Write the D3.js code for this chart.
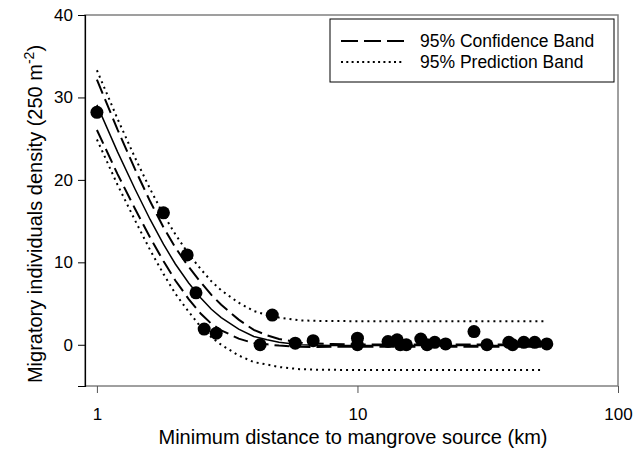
<!DOCTYPE html>
<html><head><meta charset="utf-8">
<script src="https://cdn.jsdelivr.net/npm/d3@7"></script>
<style>body{margin:0;background:#fff}svg{display:block;font-family:"Liberation Sans",Arial,sans-serif}</style>
</head><body><svg id="c" width="644" height="450"></svg>
<script>
// observed points
const distKm = [1.0,1.8,2.22,2.4,2.58,2.87,4.23,4.71,5.77,6.76,10.0,10.0,13.1,14.2,14.6,15.4,17.5,18.5,19.8,21.8,28.0,31.4,38.1,39.4,43.5,47.9,53.3];
const density = [28.2,16.0,10.9,6.3,1.9,1.4,0.0,3.6,0.2,0.5,0.8,0.0,0.4,0.6,0.0,0.0,0.7,0.0,0.3,0.1,1.6,0.0,0.3,0.0,0.3,0.3,0.1];
// fitted curve and bands
const curveX   = [1,1.2,1.4,1.6,1.8,2,2.25,2.5,2.75,3,3.5,4,4.5,5,6,7,8,10,13,17,22,30,40,52];
const fitY     = [29.1,23.4,18.9,15.2,12.2,9.8,7.5,5.7,4.3,3.3,1.9,1.0,0.6,0.3,0.0,-0.06,-0.08,-0.1,-0.1,-0.1,-0.1,-0.1,-0.1,-0.1];
const confUp   = [32.15,26.1,21.3,17.4,14.25,11.8,9.45,7.6,6.05,4.85,3.05,1.8,1.15,0.7,0.25,0.14,0.09,0.05,0.03,0.03,0.03,0.03,0.03,0.03];
const confLo   = [26.05,20.7,16.5,13.0,10.15,7.8,5.55,3.8,2.55,1.75,0.75,0.2,0.05,-0.1,-0.25,-0.26,-0.25,-0.25,-0.23,-0.23,-0.23,-0.23,-0.23,-0.23];
const predUp   = [33.3,27.4,22.7,18.9,15.8,13.4,11.0,9.2,7.7,6.6,5.1,4.1,3.6,3.3,2.96,2.9,2.88,2.86,2.86,2.86,2.86,2.86,2.86,2.86];
const predLo   = [24.9,19.4,15.1,11.5,8.6,6.2,4.0,2.2,0.9,0.0,-1.3,-2.1,-2.4,-2.7,-2.96,-3.02,-3.04,-3.06,-3.06,-3.06,-3.06,-3.06,-3.06,-3.06];
const xTicks = [1,10,100];
const yTicks = [0,10,20,30,40];
const legendLabels = ["95% Confidence Band","95% Prediction Band"];

const svg = d3.select("#c");
const L=85, R=618, T=15, B=386;
const x = d3.scaleLog().domain([0.9,100]).range([L,R]);
const y = d3.scaleLinear().domain([-5,40]).range([B,T]);

// frame (gray)
svg.append("rect").attr("x",L).attr("y",T).attr("width",R-L).attr("height",B-T)
  .attr("fill","none").attr("stroke","#808080").attr("stroke-width",1.5);

// y axis
const ya = svg.append("g").attr("transform",`translate(${L},0)`)
  .call(d3.axisLeft(y).tickValues(yTicks).tickSize(7).tickPadding(5).tickFormat(d3.format("d")));
ya.select(".domain").attr("stroke","#000").attr("stroke-width",1.2);
ya.selectAll(".tick line").attr("stroke","#000");
ya.selectAll("text").attr("font-size",17).attr("fill","#000").attr("font-family","Liberation Sans, Arial, sans-serif");

// x axis
const xa = svg.append("g").attr("transform",`translate(0,${B})`)
  .call(d3.axisBottom(x).tickValues(xTicks).tickSize(7).tickPadding(15).tickFormat(d3.format("d")));
xa.select(".domain").remove();
xa.selectAll(".tick line").attr("stroke","#555");
xa.selectAll("text").attr("font-size",17).attr("fill","#000").attr("font-family","Liberation Sans, Arial, sans-serif");

const mk = arr => d3.line().x((d,i)=>x(curveX[i])).y(d=>y(d))(arr);
const g = svg.append("g").attr("fill","none").attr("stroke","#000");
[predUp,predLo].forEach(a=>g.append("path").attr("d",mk(a)).attr("stroke-width",2).attr("stroke-dasharray","2,4"));
[confUp,confLo].forEach(a=>g.append("path").attr("d",mk(a)).attr("stroke-width",2).attr("stroke-dasharray","15,6"));
g.append("path").attr("d",mk(fitY)).attr("stroke-width",1.5);

svg.append("g").selectAll("circle").data(distKm).join("circle")
  .attr("cx",d=>x(d)).attr("cy",(d,i)=>y(density[i])).attr("r",6.5).attr("fill","#000");

// legend
const lg = svg.append("g");
lg.append("rect").attr("x",330).attr("y",19).attr("width",284).attr("height",63)
  .attr("fill","#fff").attr("stroke","#000").attr("stroke-width",1);
const dashes = ["17,6","2,3.3"];
legendLabels.forEach((t,i)=>{
  const yy = 41 + i*21;
  lg.append("line").attr("x1",341).attr("x2",404).attr("y1",yy).attr("y2",yy)
    .attr("stroke","#000").attr("stroke-width",2).attr("stroke-dasharray",dashes[i]);
  lg.append("text").attr("x",420).attr("y",yy+6).attr("font-size",17.5).text(t);
});

// titles
svg.append("text").attr("x",353).attr("y",444).attr("text-anchor","middle").attr("font-size",20)
  .text("Minimum distance to mangrove source (km)");
const yt = svg.append("text").attr("transform","translate(42,214) rotate(-90)").attr("text-anchor","middle").attr("font-size",20);
yt.append("tspan").text("Migratory individuals density (250 m");
yt.append("tspan").attr("dy",-8).attr("font-size",14).text("-2");
yt.append("tspan").attr("dy",8).text(")");
</script></body></html>
